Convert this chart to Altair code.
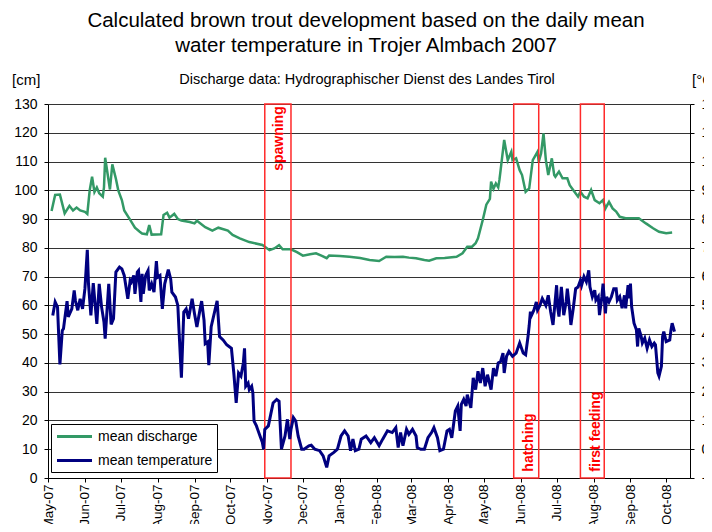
import altair as alt
import pandas as pd

FONT = "Liberation Sans"
RECORD_START = pd.Timestamp("2007-05-01")
AXIS_END = "2008-10-21"

title_lines = ["Calculated brown trout development based on the daily mean",
               "water temperature in Trojer Almbach 2007"]
subtitle = "Discharge data: Hydrographischer Dienst des Landes Tirol"
left_unit = "[cm]"
right_unit = "[°C]"

series_names = ["mean discharge", "mean temperature"]
series_colors = ["#339966", "#000080"]

# days since 2007-05-01 and mean discharge [cm]
disc_day = [3, 6, 10, 14, 18, 21, 24, 27, 31, 33, 35, 37, 39, 41, 43, 46, 47, 48, 52, 54,
            57, 59, 62, 64, 69, 73, 77, 79, 83, 85, 87, 95, 97, 100, 102, 106, 109, 112, 119, 123,
            125, 132, 138, 143, 151, 155, 161, 169, 180, 186, 190, 194, 197, 204, 209, 214, 220, 225, 230, 234,
            236, 245, 253, 262, 270, 278, 284, 291, 298, 303, 309, 316, 320, 326, 333, 343, 348, 352, 356, 359,
            361, 365, 368, 371, 372, 374, 376, 378, 379, 380, 383, 386, 389, 390, 393, 396, 398, 401, 404, 407,
            411, 412, 414, 416, 418, 420, 423, 425, 426, 429, 432, 436, 438, 442, 445, 447, 450, 453, 456, 459,
            463, 466, 468, 471, 474, 477, 480, 485, 496, 502, 508, 513, 519, 524]
disc_cm = [92.8, 98.4, 98.5, 92.0, 94.6, 93.0, 94.0, 93.0, 92.5, 91.8, 100.0, 104.7, 99.4, 101.0, 99.0, 97.8, 101.0, 111.3, 100.3, 109.0,
           104.0, 100.0, 96.6, 93.0, 89.7, 87.0, 85.6, 85.0, 84.7, 87.9, 84.6, 84.7, 91.4, 92.2, 90.5, 91.8, 90.0, 89.5, 89.0, 88.5,
           89.4, 87.2, 86.0, 87.0, 86.0, 84.5, 83.3, 82.0, 81.0, 79.2, 79.8, 80.9, 79.5, 79.5, 78.5, 77.3, 77.8, 78.1, 77.2, 76.4,
           77.3, 77.2, 76.9, 76.5, 75.8, 75.4, 76.9, 76.8, 76.9, 76.6, 76.4, 75.8, 75.5, 76.4, 76.5, 76.9, 78.1, 80.4, 80.4, 81.6,
           83.3, 89.7, 95.0, 97.0, 103.0, 100.5, 102.4, 101.0, 103.6, 107.0, 117.5, 110.5, 113.4, 110.5, 111.1, 107.0, 105.3, 99.5, 100.7, 110.5,
           113.4, 109.9, 112.9, 119.8, 110.5, 105.3, 111.1, 105.3, 104.7, 106.5, 104.2, 104.2, 101.8, 99.5, 97.8, 99.5, 97.8, 97.2, 100.1, 96.6,
           95.5, 96.6, 93.7, 96.0, 93.7, 92.6, 90.8, 90.3, 90.3, 88.5, 86.8, 85.6, 85.1, 85.3]

# days since 2007-05-01 and mean water temperature [°C]
temp_day = [4, 6, 8, 10, 12, 13, 16, 17, 20, 22, 23, 25, 27, 29, 31, 33, 34, 36, 38, 41,
            43, 45, 47, 48, 51, 53, 55, 57, 60, 62, 64, 67, 69, 70, 72, 73, 75, 76, 78, 79,
            80, 82, 84, 85, 87, 89, 91, 92, 94, 96, 98, 101, 103, 104, 107, 109, 110, 112, 114, 116,
            118, 121, 123, 125, 128, 129, 131, 132, 134, 135, 137, 142, 144, 147, 150, 152, 154, 156, 158, 160,
            162, 164, 165, 166, 168, 169, 171, 172, 173, 175, 176, 178, 180, 181, 182, 185, 187, 189, 192, 194,
            195, 196, 199, 201, 203, 204, 206, 208, 210, 213, 215, 219, 221, 224, 228, 231, 234, 236, 240, 243,
            246, 249, 252, 254, 256, 258, 261, 263, 267, 271, 274, 278, 281, 285, 289, 292, 294, 296, 298, 301,
            303, 306, 309, 310, 313, 316, 319, 322, 324, 327, 329, 332, 335, 337, 339, 342, 344, 346, 347, 349,
            351, 352, 355, 357, 359, 361, 363, 365, 367, 369, 372, 374, 376, 378, 380, 382, 383, 385, 387, 390,
            393, 396, 399, 401, 403, 404, 405, 406, 408, 410, 411, 413, 415, 418, 420, 422, 424, 427, 428, 429,
            431, 433, 435, 436, 438, 439, 441, 443, 445, 447, 448, 450, 452, 454, 455, 457, 459, 460, 462, 463,
            465, 466, 468, 469, 471, 473, 475, 477, 478, 480, 482, 484, 485, 487, 488, 489, 490, 492, 494, 495,
            496, 498, 499, 501, 503, 505, 507, 509, 510, 512, 513, 515, 516, 517, 519, 522, 523, 524, 526]
temp_c = [4.65, 5.12, 4.94, 2.95, 4.13, 4.19, 5.15, 4.60, 4.88, 5.52, 5.17, 4.83, 5.23, 4.88, 5.58, 6.93, 5.75, 4.65, 5.77, 4.36,
          5.75, 4.94, 4.42, 3.84, 5.75, 4.34, 4.54, 6.16, 6.33, 6.27, 6.04, 5.23, 5.87, 5.81, 6.04, 5.40, 6.16, 6.21, 5.12, 6.10,
          5.40, 6.04, 6.21, 5.52, 5.75, 5.46, 6.54, 5.98, 6.04, 4.88, 5.75, 6.24, 5.92, 5.46, 5.29, 5.00, 4.13, 2.49, 4.77, 4.88,
          4.54, 5.23, 4.71, 4.25, 4.94, 5.15, 4.48, 3.67, 3.73, 2.92, 4.26, 5.16, 3.92, 3.80, 3.63, 3.57, 3.51, 2.65, 1.61, 2.65,
          2.54, 3.00, 3.51, 2.19, 2.30, 2.07, 2.19, 1.96, 0.98, 0.81, 0.69, 0.46, 0.23, 0.00, 0.69, 0.81, 1.21, 1.61, 1.73, 1.67,
          0.81, 0.00, 0.46, 1.04, 0.35, 0.69, 1.10, 0.98, 0.46, 0.00, 0.00, 0.12, 0.14, 0.00, -0.05, -0.23, -0.63, -0.23, -0.11, 0.00,
          0.46, 0.64, 0.46, -0.05, 0.35, -0.05, 0.00, 0.35, 0.46, 0.23, 0.40, 0.12, 0.35, 0.64, 0.58, 0.75, 0.06, 0.58, 0.12, 0.69,
          0.52, 0.69, 0.46, 0.06, 0.00, 0.00, 0.40, 0.58, 0.75, 0.40, -0.05, 0.00, 0.64, 0.69, 0.40, 1.33, 1.50, 0.64, 1.56, 1.73,
          1.50, 1.90, 1.44, 2.48, 2.07, 2.71, 2.30, 2.82, 2.19, 2.59, 2.07, 2.82, 2.54, 3.00, 3.05, 3.34, 2.65, 3.23, 3.40, 3.23,
          3.34, 3.69, 3.34, 3.28, 3.92, 4.30, 4.78, 4.66, 4.84, 5.12, 4.84, 5.00, 5.24, 5.00, 5.35, 4.78, 4.32, 5.70, 4.90, 4.61,
          5.64, 4.66, 5.12, 5.58, 4.84, 4.32, 4.90, 5.58, 5.64, 5.87, 5.70, 6.00, 5.82, 6.22, 5.64, 5.30, 5.53, 5.18, 5.30, 4.66,
          5.30, 5.76, 4.72, 5.30, 5.12, 5.30, 5.58, 5.58, 5.18, 5.30, 4.90, 5.35, 4.90, 5.70, 5.24, 5.76, 4.95, 4.38, 4.15, 3.57,
          4.20, 3.92, 3.69, 3.86, 3.51, 3.80, 3.57, 3.69, 3.63, 2.65, 2.54, 2.88, 3.92, 4.09, 3.74, 3.80, 4.14, 4.38, 4.09]

month_ticks = ["2007-05-01", "2007-06-01", "2007-07-01", "2007-08-01", "2007-09-01", "2007-10-01",
               "2007-11-01", "2007-12-01", "2008-01-01", "2008-02-01", "2008-03-01", "2008-04-01",
               "2008-05-01", "2008-06-01", "2008-07-01", "2008-08-01", "2008-09-01", "2008-10-01"]
cm_ticks = list(range(0, 131, 10))
degc_ticks = list(range(-1, 13))

phase_names = ["spawning", "hatching", "first feeding"]
phase_start = ["2007-10-30", "2008-05-26", "2008-07-21"]
phase_end = ["2007-11-21", "2008-06-16", "2008-08-10"]
phase_label_date = ["2007-11-11", "2008-06-08", "2008-08-03"]
phase_label_pos = ["top", "bottom", "bottom"]


def dt(s):
    t = pd.Timestamp(s)
    return alt.DateTime(year=t.year, month=t.month, date=t.day)


def to_dates(days):
    return RECORD_START + pd.to_timedelta(days, unit="D")


disc_df = pd.DataFrame({"date": to_dates(disc_day), "value": disc_cm, "series": series_names[0]})
temp_df = pd.DataFrame({"date": to_dates(temp_day), "value": temp_c, "series": series_names[1]})
phase_df = pd.DataFrame({
    "phase": phase_names,
    "start": pd.to_datetime(phase_start),
    "end": pd.to_datetime(phase_end),
    "label_date": pd.to_datetime(phase_label_date),
    "pos": phase_label_pos,
})
one_row = pd.DataFrame({"k": [0]})

x_scale = alt.Scale(domain=[dt(month_ticks[0]), dt(AXIS_END)], nice=False)
x_axis = alt.Axis(values=[dt(m) for m in month_ticks], format="%b-%y", formatType="time",
                  labelAngle=-90, labelOverlap=False, labelBound=False, labelFlush=False,
                  title=None, grid=False, tickSize=4, tickColor="black", domainColor="black",
                  labelPadding=2, labelFontSize=13.5, labelColor="black", labelFont=FONT)
x_enc = alt.X("date:T", scale=x_scale, axis=x_axis)

color_scale = alt.Scale(domain=series_names, range=series_colors)
legend = alt.Legend(title=None, orient="none", legendX=3, legendY=320, direction="vertical",
                    fillColor="white", strokeColor="black", padding=4,
                    symbolType="M-2.5,0H2.5", symbolSize=196, symbolStrokeWidth=3,
                    symbolOffset=11, labelOffset=15, labelFontSize=14, labelColor="black",
                    labelFont=FONT, rowPadding=8)
color_enc = alt.Color("series:N", scale=color_scale, legend=legend)

cm_scale = alt.Scale(domain=[0, 130], nice=False)
cm_axis = alt.Axis(values=cm_ticks, title=None, grid=True, gridColor="#333333", gridWidth=1,
                   domainColor="black", tickColor="black", tickSize=4, labelPadding=7,
                   labelOverlap=False, labelFontSize=14, labelColor="black", labelFont=FONT,
                   orient="left")
degc_axis = alt.Axis(values=degc_ticks, title=None, grid=False,
                     domainColor="black", tickColor="black", tickSize=4, labelPadding=7,
                     labelOverlap=False, labelFontSize=14, labelColor="black", labelFont=FONT,
                     orient="right")

disc_line = alt.Chart(disc_df).mark_line(strokeWidth=2.5).encode(
    x=x_enc,
    y=alt.Y("value:Q", scale=cm_scale, axis=cm_axis),
    color=color_enc,
)

rects = alt.Chart(phase_df).mark_rect(fill="transparent", stroke="#ff2a2a", strokeWidth=1.5).encode(
    x=alt.X("start:T", scale=x_scale, axis=x_axis),
    x2="end:T",
    y=alt.YDatum(0, scale=cm_scale, axis=cm_axis, title=None),
    y2=alt.Y2Datum(130),
)

top_labels = alt.Chart(phase_df).transform_filter(alt.datum.pos == "top").mark_text(
    angle=270, align="right", baseline="middle", fontSize=14, fontWeight="bold",
    color="#ff0000", font=FONT
).encode(
    x=alt.X("label_date:T", scale=x_scale, axis=x_axis),
    y=alt.YDatum(129.2, scale=cm_scale, axis=cm_axis, title=None),
    text="phase:N",
)

bottom_labels = alt.Chart(phase_df).transform_filter(alt.datum.pos == "bottom").mark_text(
    angle=270, align="left", baseline="middle", fontSize=14, fontWeight="bold",
    color="#ff0000", font=FONT
).encode(
    x=alt.X("label_date:T", scale=x_scale, axis=x_axis),
    y=alt.YDatum(2.2, scale=cm_scale, axis=cm_axis, title=None),
    text="phase:N",
)

left_layer = alt.layer(disc_line, rects, top_labels, bottom_labels)

temp_line = alt.Chart(temp_df).mark_line(strokeWidth=3).encode(
    x=x_enc,
    y=alt.Y("value:Q", scale=alt.Scale(domain=[-1, 12], nice=False), axis=degc_axis),
    color=color_enc,
)

title_text = alt.Chart(one_row).mark_text(
    text=title_lines, lineHeight=25, fontSize=20.5, align="center", baseline="middle",
    color="black", font=FONT
).encode(x=alt.value(318), y=alt.value(-83))

subtitle_text = alt.Chart(one_row).mark_text(
    text=subtitle, fontSize=14.5, align="center", baseline="middle", color="black", font=FONT
).encode(x=alt.value(319), y=alt.value(-24))

left_unit_text = alt.Chart(one_row).mark_text(
    text=left_unit, fontSize=15, align="left", baseline="middle", color="black", font=FONT
).encode(x=alt.value(-36), y=alt.value(-24))

right_unit_text = alt.Chart(one_row).mark_text(
    text=right_unit, fontSize=15, align="left", baseline="middle", color="black", font=FONT
).encode(x=alt.value(644), y=alt.value(-24))

chart = alt.layer(
    left_layer, temp_line, title_text, subtitle_text, left_unit_text, right_unit_text
).resolve_scale(y="independent").properties(
    width=642, height=374,
    autosize=alt.AutoSizeParams(type="none"),
    padding={"left": 40, "top": 96, "right": 14, "bottom": 46},
).configure(font=FONT).configure_view(stroke="transparent")

chart.save("out.html", embed_options={"renderer": "svg", "actions": False})
